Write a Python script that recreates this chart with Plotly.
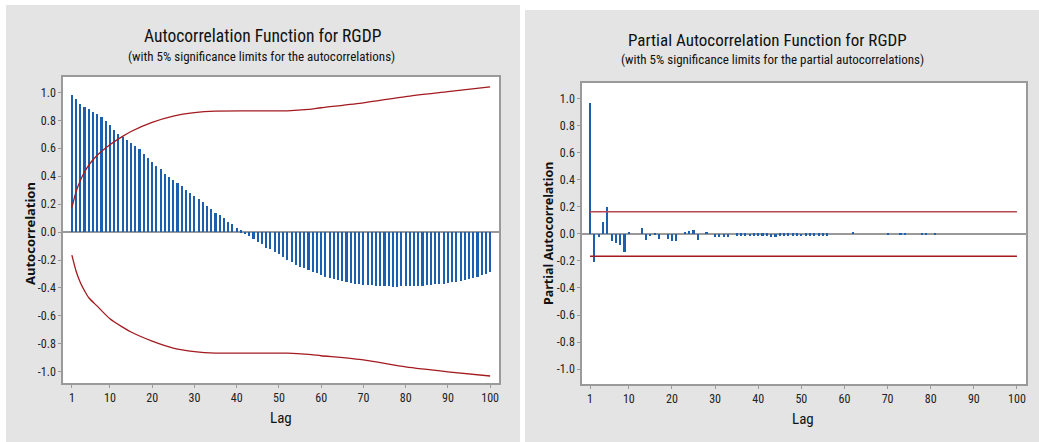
import plotly.graph_objects as go

W, H = 1039, 442

lags = list(range(1, 101))

acf_values = [
    0.979, 0.950, 0.919, 0.893, 0.879, 0.862, 0.845, 0.821, 0.795, 0.764,
    0.729, 0.705, 0.681, 0.662, 0.640, 0.617, 0.593, 0.560, 0.531, 0.502,
    0.476, 0.452, 0.417, 0.395, 0.371, 0.350, 0.329, 0.300, 0.280, 0.260,
    0.235, 0.212, 0.188, 0.162, 0.138, 0.121, 0.098, 0.071, 0.057, 0.029,
    0.014, -0.012, -0.026, -0.050, -0.069, -0.083, -0.112, -0.124, -0.143, -0.157,
    -0.181, -0.200, -0.217, -0.233, -0.248, -0.257, -0.271, -0.283, -0.295, -0.307,
    -0.319, -0.329, -0.338, -0.343, -0.350, -0.360, -0.366, -0.371, -0.375, -0.378,
    -0.380, -0.382, -0.384, -0.386, -0.388, -0.389, -0.390, -0.390, -0.389, -0.389,
    -0.388, -0.387, -0.385, -0.383, -0.380, -0.378, -0.375, -0.372, -0.368, -0.364,
    -0.360, -0.355, -0.350, -0.344, -0.338, -0.331, -0.322, -0.310, -0.297, -0.283,
]

acf_limit_lags = [1, 2, 3, 4, 5, 7, 10, 13, 15, 20, 25, 30, 35, 52, 57, 60, 70, 80, 90, 100]
acf_limit_upper = [0.175, 0.29, 0.37, 0.43, 0.48, 0.55, 0.625, 0.685, 0.72, 0.785,
                   0.83, 0.855, 0.866, 0.868, 0.878, 0.89, 0.925, 0.97, 1.005, 1.04]
acf_limit_lower = [-0.165, -0.28, -0.36, -0.42, -0.47, -0.53, -0.62, -0.68, -0.715, -0.78,
                   -0.83, -0.855, -0.866, -0.866, -0.875, -0.885, -0.915, -0.965, -1.0, -1.03]

pacf_values = [
    0.970, -0.210, -0.025, 0.090, 0.200, -0.054, -0.067, -0.084, -0.136, 0.017,
    0.0, 0.0, 0.044, -0.044, -0.018, -0.010, -0.035, 0.0, -0.035, -0.054,
    -0.054, 0.0, 0.012, 0.020, 0.030, -0.044, 0.0, 0.012, 0.0, -0.025,
    -0.025, -0.025, -0.025, 0.0, -0.012, -0.012, -0.012, -0.018, -0.012, -0.012,
    -0.012, -0.012, -0.020, -0.020, -0.012, -0.012, -0.012, -0.012, -0.012, -0.016,
    -0.012, -0.012, -0.012, -0.012, -0.012, -0.012, 0.0, 0.0, 0.0, 0.0,
    0.0, 0.010, 0.0, 0.0, 0.0, 0.0, 0.0, 0.0, 0.0, -0.010,
    0.0, 0.0, -0.010, -0.010, 0.0, 0.0, 0.0, -0.010, -0.010, 0.0,
    -0.010, 0.0, 0.0, 0.0, 0.0, 0.0, 0.0, 0.0, 0.0, 0.0,
    0.0, 0.0, 0.0, 0.0, 0.0, 0.0, 0.0, 0.0, 0.0, 0.0,
]

pacf_limit_lags = [1, 100]
pacf_limit_upper = [0.165, 0.165]
pacf_limit_lower = [-0.165, -0.165]

xtick_vals = [1, 10, 20, 30, 40, 50, 60, 70, 80, 90, 100]
xtick_text = ["1", "10", "20", "30", "40", "50", "60", "70", "80", "90", "100"]
ytick_vals = [-1.0, -0.8, -0.6, -0.4, -0.2, 0.0, 0.2, 0.4, 0.6, 0.8, 1.0]
ytick_text = ["-1.0", "-0.8", "-0.6", "-0.4", "-0.2", "0.0", "0.2", "0.4", "0.6", "0.8", "1.0"]

BAR = "#1b5fae"
LIM = "#a31a1f"
AX = "#9a9a9a"
FONT = "Liberation Sans Narrow, Roboto Condensed, Roboto, sans-serif"
AXFONT = "Noto Sans, Open Sans, sans-serif"


def px(x):
    return x / W


def py(y):
    return 1 - y / H


fig = go.Figure()
fig.add_trace(go.Bar(x=lags, y=acf_values, width=0.5, marker=dict(color=BAR, line_width=0),
                     xaxis="x", yaxis="y", showlegend=False, hoverinfo="skip"))
fig.add_trace(go.Scatter(x=acf_limit_lags, y=acf_limit_upper, mode="lines",
                         line=dict(color=LIM, width=1.3, shape="spline", smoothing=0.6),
                         xaxis="x", yaxis="y", showlegend=False, hoverinfo="skip"))
fig.add_trace(go.Scatter(x=acf_limit_lags, y=acf_limit_lower, mode="lines",
                         line=dict(color=LIM, width=1.3, shape="spline", smoothing=0.6),
                         xaxis="x", yaxis="y", showlegend=False, hoverinfo="skip"))
fig.add_trace(go.Bar(x=lags, y=pacf_values, width=0.5, marker=dict(color=BAR, line_width=0),
                     xaxis="x2", yaxis="y2", showlegend=False, hoverinfo="skip"))
fig.add_trace(go.Scatter(x=pacf_limit_lags, y=pacf_limit_upper, mode="lines",
                         line=dict(color="#b8484c", width=1.6), xaxis="x2", yaxis="y2",
                         showlegend=False, hoverinfo="skip"))
fig.add_trace(go.Scatter(x=pacf_limit_lags, y=pacf_limit_lower, mode="lines",
                         line=dict(color=LIM, width=1.5), xaxis="x2", yaxis="y2",
                         showlegend=False, hoverinfo="skip"))

common_x = dict(tickvals=xtick_vals, ticktext=xtick_text, showgrid=False, zeroline=False,
                showline=True, mirror=True, linecolor=AX, linewidth=1.5,
                ticks="outside", ticklen=3, tickcolor=AX,
                tickfont=dict(family=FONT, size=12, color="#222"), fixedrange=True)
common_y = dict(tickvals=ytick_vals, ticktext=ytick_text, showgrid=False,
                zeroline=True, zerolinecolor=AX, zerolinewidth=1.5,
                showline=True, mirror=True, linecolor=AX, linewidth=1.5,
                ticks="outside", ticklen=3, tickcolor=AX,
                tickfont=dict(family=FONT, size=12, color="#222"), fixedrange=True)

L = dict(x0=63, x1=499, y0=77, y1=383)
R = dict(x0=582, x1=1026, y0=83, y1=384)

fig.update_layout(
    width=W, height=H,
    margin=dict(l=0, r=0, t=0, b=0),
    paper_bgcolor="white", plot_bgcolor="rgba(0,0,0,0)",
    bargap=0,
    xaxis=dict(domain=[px(L["x0"]), px(L["x1"])], anchor="y", range=[-1.1, 102.1], **common_x),
    yaxis=dict(domain=[py(L["y1"]), py(L["y0"])], anchor="x", range=[-1.08, 1.11], **common_y),
    xaxis2=dict(domain=[px(R["x0"]), px(R["x1"])], anchor="y2", range=[-0.86, 102.1], **common_x),
    yaxis2=dict(domain=[py(R["y1"]), py(R["y0"])], anchor="x2", range=[-1.111, 1.118], **common_y),
)

shapes = [
    dict(type="rect", xref="paper", yref="paper", x0=px(6), x1=px(520), y0=0, y1=py(5),
         fillcolor="#e4e4e4", line_width=0, layer="below"),
    dict(type="rect", xref="paper", yref="paper", x0=px(525), x1=1, y0=0, y1=py(10),
         fillcolor="#e4e4e4", line_width=0, layer="below"),
    dict(type="rect", xref="paper", yref="paper", x0=px(L["x0"]), x1=px(L["x1"]),
         y0=py(L["y1"]), y1=py(L["y0"]), fillcolor="white", line_width=0, layer="below"),
    dict(type="rect", xref="paper", yref="paper", x0=px(R["x0"]), x1=px(R["x1"]),
         y0=py(R["y1"]), y1=py(R["y0"]), fillcolor="white", line_width=0, layer="below"),
]
fig.update_layout(shapes=shapes)


def ann(text, x, y, size, angle=0, color="#111", family=FONT):
    return dict(text=text, x=px(x), y=py(y), xref="paper", yref="paper",
                xanchor="center", yanchor="middle", showarrow=False, textangle=angle,
                font=dict(family=family, size=size, color=color))


fig.update_layout(annotations=[
    ann("Autocorrelation Function for RGDP", 263, 36, 17.5),
    ann("(with 5% significance limits for the autocorrelations)", 261, 56, 13),
    ann("Partial Autocorrelation Function for RGDP", 767, 40, 17),
    ann("(with 5% significance limits for the partial autocorrelations)", 772, 60, 13),
    ann("<b>Autocorrelation</b>", 30, 234, 13, angle=-90, family=AXFONT),
    ann("<b>Partial Autocorrelation</b>", 548, 234, 12.5, angle=-90, family=AXFONT),
    ann("Lag", 281, 418, 15),
    ann("Lag", 803, 419, 15),
])

fig.write_html("out.html")
